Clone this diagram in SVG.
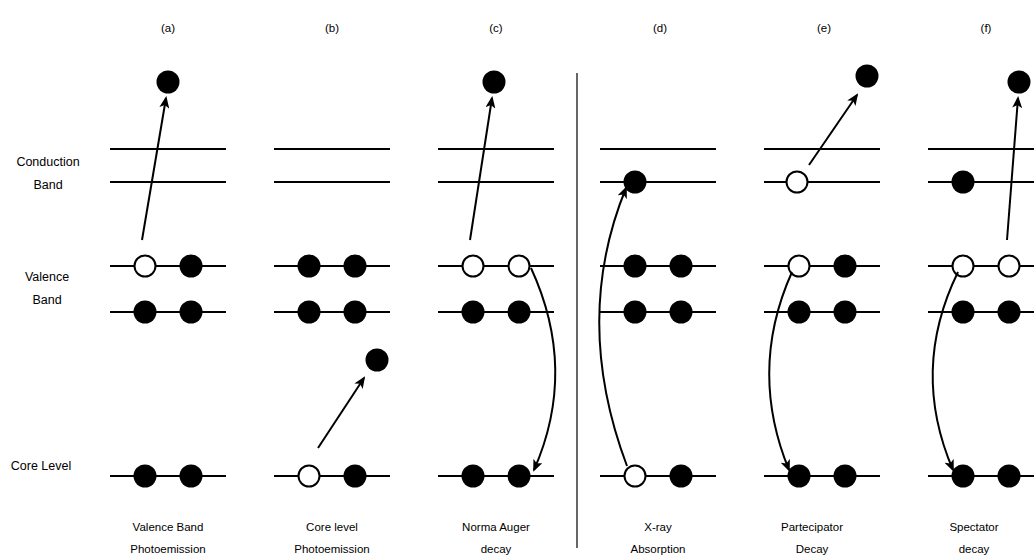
<svg xmlns="http://www.w3.org/2000/svg" width="1034" height="559" viewBox="0 0 1034 559">
<style>
.lvl{stroke:#000;stroke-width:2;fill:none}
.e{fill:#000}
.h{fill:#fff;stroke:#000;stroke-width:2}
.arr{stroke:#000;stroke-width:2;fill:none;marker-end:url(#ah)}
text{font-family:"Liberation Sans",Arial,sans-serif;font-size:12.5px;fill:#000;text-anchor:middle}
.sm{font-size:11.5px}
</style>
<defs>
<marker id="ah" viewBox="0 0 12 10" refX="10" refY="5" markerWidth="12" markerHeight="10" orient="auto" markerUnits="userSpaceOnUse">
<path d="M0,0 L12,5 L0,10 L3,5 z" fill="#000"/>
</marker>
</defs>
<rect width="1034" height="559" fill="#fff"/>
<g id="side-labels">
<text x="48" y="166">Conduction</text>
<text x="48" y="189">Band</text>
<text x="47" y="281">Valence</text>
<text x="47" y="304">Band</text>
<text x="41" y="470">Core Level</text>
</g>
<line id="divider" x1="577" y1="73" x2="577" y2="548" stroke="#000" stroke-width="1.2"/>
<g id="panel-a">
<text x="168" y="32" class="sm">(a)</text>
<line class="lvl" x1="110" y1="149" x2="226" y2="149"/>
<line class="lvl" x1="110" y1="182" x2="226" y2="182"/>
<line class="lvl" x1="110" y1="266" x2="226" y2="266"/>
<line class="lvl" x1="110" y1="312" x2="226" y2="312"/>
<line class="lvl" x1="110" y1="476" x2="226" y2="476"/>
<circle class="e" cx="168" cy="82" r="11.5"/>
<circle class="h" cx="145" cy="266" r="10.5"/>
<circle class="e" cx="191" cy="266" r="11.5"/>
<circle class="e" cx="145" cy="312" r="11.5"/>
<circle class="e" cx="191" cy="312" r="11.5"/>
<circle class="e" cx="145" cy="476" r="11.5"/>
<circle class="e" cx="191" cy="476" r="11.5"/>
<text x="168" y="531" class="sm">Valence Band</text>
<text x="168" y="553" class="sm">Photoemission</text>
</g>
<g id="panel-b">
<text x="332" y="32" class="sm">(b)</text>
<line class="lvl" x1="274" y1="149" x2="390" y2="149"/>
<line class="lvl" x1="274" y1="182" x2="390" y2="182"/>
<line class="lvl" x1="274" y1="266" x2="390" y2="266"/>
<line class="lvl" x1="274" y1="312" x2="390" y2="312"/>
<line class="lvl" x1="274" y1="476" x2="390" y2="476"/>
<circle class="e" cx="309" cy="266" r="11.5"/>
<circle class="e" cx="355" cy="266" r="11.5"/>
<circle class="e" cx="309" cy="312" r="11.5"/>
<circle class="e" cx="355" cy="312" r="11.5"/>
<circle class="e" cx="377" cy="360" r="11.5"/>
<circle class="h" cx="309" cy="476" r="10.5"/>
<circle class="e" cx="355" cy="476" r="11.5"/>
<text x="332" y="531" class="sm">Core level</text>
<text x="332" y="553" class="sm">Photoemission</text>
</g>
<g id="panel-c">
<text x="496" y="32" class="sm">(c)</text>
<line class="lvl" x1="438" y1="149" x2="554" y2="149"/>
<line class="lvl" x1="438" y1="182" x2="554" y2="182"/>
<line class="lvl" x1="438" y1="266" x2="554" y2="266"/>
<line class="lvl" x1="438" y1="312" x2="554" y2="312"/>
<line class="lvl" x1="438" y1="476" x2="554" y2="476"/>
<circle class="e" cx="494" cy="82" r="11.5"/>
<circle class="h" cx="473" cy="266" r="10.5"/>
<circle class="h" cx="519" cy="266" r="10.5"/>
<circle class="e" cx="473" cy="312" r="11.5"/>
<circle class="e" cx="519" cy="312" r="11.5"/>
<circle class="e" cx="473" cy="476" r="11.5"/>
<circle class="e" cx="519" cy="476" r="11.5"/>
<text x="496" y="531" class="sm">Norma Auger</text>
<text x="496" y="553" class="sm">decay</text>
</g>
<g id="panel-d">
<text x="660" y="32" class="sm">(d)</text>
<line class="lvl" x1="600" y1="149" x2="716" y2="149"/>
<line class="lvl" x1="600" y1="182" x2="716" y2="182"/>
<line class="lvl" x1="600" y1="266" x2="716" y2="266"/>
<line class="lvl" x1="600" y1="312" x2="716" y2="312"/>
<line class="lvl" x1="600" y1="476" x2="716" y2="476"/>
<circle class="e" cx="635" cy="182" r="11.5"/>
<circle class="e" cx="635" cy="266" r="11.5"/>
<circle class="e" cx="681" cy="266" r="11.5"/>
<circle class="e" cx="635" cy="312" r="11.5"/>
<circle class="e" cx="681" cy="312" r="11.5"/>
<circle class="h" cx="635" cy="476" r="10.5"/>
<circle class="e" cx="681" cy="476" r="11.5"/>
<text x="658" y="531" class="sm">X-ray</text>
<text x="658" y="553" class="sm">Absorption</text>
</g>
<g id="panel-e">
<text x="824" y="32" class="sm">(e)</text>
<line class="lvl" x1="764" y1="149" x2="880" y2="149"/>
<line class="lvl" x1="764" y1="182" x2="880" y2="182"/>
<line class="lvl" x1="764" y1="266" x2="880" y2="266"/>
<line class="lvl" x1="764" y1="312" x2="880" y2="312"/>
<line class="lvl" x1="764" y1="476" x2="880" y2="476"/>
<circle class="e" cx="867" cy="76" r="11.5"/>
<circle class="h" cx="797" cy="182" r="10.5"/>
<circle class="h" cx="799" cy="266" r="10.5"/>
<circle class="e" cx="845" cy="266" r="11.5"/>
<circle class="e" cx="799" cy="312" r="11.5"/>
<circle class="e" cx="845" cy="312" r="11.5"/>
<circle class="e" cx="799" cy="476" r="11.5"/>
<circle class="e" cx="845" cy="476" r="11.5"/>
<text x="812" y="531" class="sm">Partecipator</text>
<text x="812" y="553" class="sm">Decay</text>
</g>
<g id="panel-f">
<text x="986" y="32" class="sm">(f)</text>
<line class="lvl" x1="928" y1="149" x2="1044" y2="149"/>
<line class="lvl" x1="928" y1="182" x2="1044" y2="182"/>
<line class="lvl" x1="928" y1="266" x2="1044" y2="266"/>
<line class="lvl" x1="928" y1="312" x2="1044" y2="312"/>
<line class="lvl" x1="928" y1="476" x2="1044" y2="476"/>
<circle class="e" cx="1019" cy="82" r="11.5"/>
<circle class="e" cx="963" cy="182" r="11.5"/>
<circle class="h" cx="963" cy="266" r="10.5"/>
<circle class="h" cx="1009" cy="266" r="10.5"/>
<circle class="e" cx="963" cy="312" r="11.5"/>
<circle class="e" cx="1009" cy="312" r="11.5"/>
<circle class="e" cx="963" cy="476" r="11.5"/>
<circle class="e" cx="1009" cy="476" r="11.5"/>
<text x="974" y="531" class="sm">Spectator</text>
<text x="974" y="553" class="sm">decay</text>
</g>
<g id="connectors">
<line class="arr" x1="142" y1="240" x2="166" y2="98"/>
<line class="arr" x1="318" y1="448" x2="364" y2="378"/>
<line class="arr" x1="470" y1="240" x2="492" y2="98"/>
<path class="arr" d="M531,268 Q578,370 534,470"/>
<path class="arr" d="M627,466 Q572,320 626,188"/>
<line class="arr" x1="809" y1="165" x2="857" y2="95"/>
<path class="arr" d="M792,272 Q748,370 789,470"/>
<line class="arr" x1="1007" y1="240" x2="1018" y2="98"/>
<path class="arr" d="M958,272 Q910,370 953,470"/>
</g>
</svg>
